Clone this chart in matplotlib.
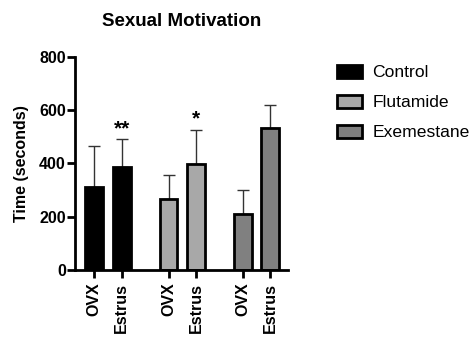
import matplotlib.pyplot as plt
from matplotlib.patches import Patch

plt.rcParams['font.family'] = ['Liberation Sans', 'DejaVu Sans']

groups = ['Control', 'Flutamide', 'Exemestane']
conditions = ['OVX', 'Estrus']
means = [312, 385, 266, 397, 209, 531]
errors = [154, 105, 89, 128, 90, 89]
stars = ['', '**', '', '*', '', '']
colors = ['#000000', '#a8a8a8', '#808080']

x = [0, 1, 2.7, 3.7, 5.4, 6.4]
bar_colors = [c for c in colors for _ in conditions]
tick_labels = conditions * len(groups)

fig = plt.figure(figsize=(4.77, 3.37), dpi=100)
ax = fig.add_axes([0.1572, 0.1988, 0.4465, 0.633])

ax.bar(x, means, width=0.65, color=bar_colors, edgecolor='black', linewidth=2, zorder=2)
ax.errorbar(x, means, yerr=[[0] * len(means), errors], fmt='none',
            ecolor='#333333', elinewidth=1, capsize=4, capthick=1, zorder=1)

for xi, m, e, s in zip(x, means, errors, stars):
    if s:
        ax.text(xi, m + e + 5, s, ha='center', va='bottom', fontsize=15, fontweight='bold')

ax.set_xlim(-0.7, 7.04)
ax.set_ylim(0, 800)
ax.set_yticks([0, 200, 400, 600, 800])
ax.set_xticks(x)
ax.set_xticklabels(tick_labels, rotation=90, fontweight='bold', fontsize=11.5)
for lab in ax.get_yticklabels():
    lab.set_fontweight('bold')
    lab.set_fontsize(11.5)

ax.spines['top'].set_visible(False)
ax.spines['right'].set_visible(False)
ax.spines['left'].set_linewidth(2)
ax.spines['bottom'].set_linewidth(2)
ax.tick_params(width=2, length=6)
ax.tick_params(axis='x', pad=3)
ax.tick_params(axis='y', pad=0.5)

ax.set_ylabel('Time (seconds)', fontweight='bold', fontsize=11.5, labelpad=7)
ax.set_title('Sexual Motivation', fontweight='bold', fontsize=13.5, pad=22)

handles = [Patch(facecolor=c, edgecolor='black', linewidth=2) for c in colors]
fig.legend(handles, groups, loc='upper left', bbox_to_anchor=(0.7065, 0.808),
           frameon=False, fontsize=12.6, handlelength=1.43, handleheight=0.8,
           labelspacing=0.81, handletextpad=0.6, borderpad=0, borderaxespad=0)

plt.savefig('out.png', dpi=100)
